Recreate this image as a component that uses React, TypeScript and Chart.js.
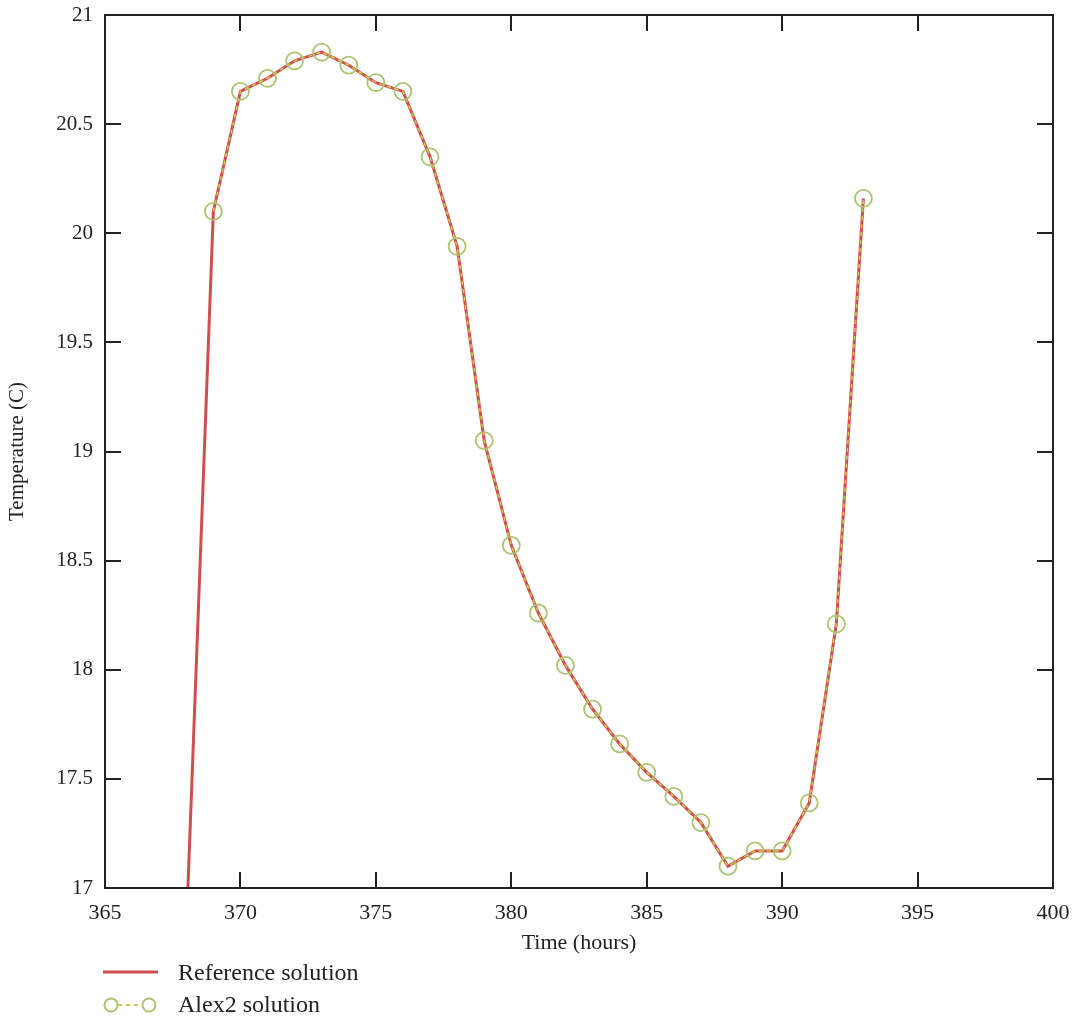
import React, { useEffect, useRef } from "react";
import { Chart, registerables } from "chart.js";

Chart.register(...registerables);

const refHours = [368, 369, 370, 371, 372, 373, 374, 375, 376, 377, 378, 379, 380, 381, 382, 383, 384, 385, 386, 387, 388, 389, 390, 391, 392, 393];
const refTemp = [16.8, 20.1, 20.65, 20.71, 20.79, 20.83, 20.77, 20.69, 20.65, 20.35, 19.94, 19.05, 18.57, 18.26, 18.02, 17.82, 17.66, 17.53, 17.42, 17.3, 17.1, 17.17, 17.17, 17.39, 18.21, 20.16];

const alexHours = [369, 370, 371, 372, 373, 374, 375, 376, 377, 378, 379, 380, 381, 382, 383, 384, 385, 386, 387, 388, 389, 390, 391, 392, 393];
const alexTemp = [20.1, 20.65, 20.71, 20.79, 20.83, 20.77, 20.69, 20.65, 20.35, 19.94, 19.05, 18.57, 18.26, 18.02, 17.82, 17.66, 17.53, 17.42, 17.3, 17.1, 17.17, 17.17, 17.39, 18.21, 20.16];

const xTicks = [365, 370, 375, 380, 385, 390, 395, 400];
const yTicks = [17, 17.5, 18, 18.5, 19, 19.5, 20, 20.5, 21];

const seriesNames = ["Reference solution", "Alex2 solution"];

const RED = "rgb(208,78,78)";
const GREEN = "rgb(172,196,112)";
const DASH = "rgb(200,205,70)";
const INK = "#222";
const SERIF = "'Liberation Serif', 'Times New Roman', serif";

const framePlugin = {
  id: "frameTicks",
  afterDatasetsDraw(chart: any) {
    const { ctx, chartArea: a, scales } = chart;
    ctx.save();
    ctx.strokeStyle = INK;
    ctx.lineWidth = 2;
    ctx.strokeRect(a.left, a.top, a.right - a.left, a.bottom - a.top);
    const L = 16;
    ctx.beginPath();
    xTicks.slice(1, -1).forEach((v) => {
      const px = Math.round(scales.x.getPixelForValue(v));
      ctx.moveTo(px, a.bottom);
      ctx.lineTo(px, a.bottom - L);
      ctx.moveTo(px, a.top);
      ctx.lineTo(px, a.top + L);
    });
    yTicks.slice(1, -1).forEach((v) => {
      const py = Math.round(scales.y.getPixelForValue(v));
      ctx.moveTo(a.left, py);
      ctx.lineTo(a.left + L, py);
      ctx.moveTo(a.right, py);
      ctx.lineTo(a.right - L, py);
    });
    ctx.stroke();

    // legend
    ctx.font = `24px ${SERIF}`;
    ctx.fillStyle = INK;
    ctx.textBaseline = "middle";
    ctx.textAlign = "left";
    ctx.strokeStyle = RED;
    ctx.lineWidth = 3;
    ctx.beginPath();
    ctx.moveTo(103, 972);
    ctx.lineTo(158, 972);
    ctx.stroke();
    ctx.fillText(seriesNames[0], 178, 974);

    ctx.strokeStyle = GREEN;
    ctx.lineWidth = 2;
    [111, 149].forEach((cx) => {
      ctx.beginPath();
      ctx.arc(cx, 1005, 6.5, 0, Math.PI * 2);
      ctx.stroke();
    });
    ctx.strokeStyle = DASH;
    ctx.setLineDash([4, 4]);
    ctx.beginPath();
    ctx.moveTo(118, 1005);
    ctx.lineTo(142, 1005);
    ctx.stroke();
    ctx.setLineDash([]);
    ctx.fillStyle = INK;
    ctx.fillText(seriesNames[1], 178, 1006);
    ctx.restore();
  },
};

export default function App() {
  const ref = useRef<HTMLCanvasElement>(null);
  useEffect(() => {
    const canvas = ref.current!;
    const chart = new Chart(canvas, {
      type: "line",
      data: {
        datasets: [
          {
            label: seriesNames[0],
            data: refHours.map((h, i) => ({ x: h, y: refTemp[i] })),
            borderColor: RED,
            borderWidth: 3,
            pointRadius: 0,
            fill: false,
            tension: 0,
            order: 1,
            clip: 0 as any,
          },
          {
            label: seriesNames[1],
            data: alexHours.map((h, i) => ({ x: h, y: alexTemp[i] })),
            borderColor: DASH,
            borderWidth: 1.5,
            borderDash: [4, 4],
            pointRadius: 8.5,
            pointBorderColor: GREEN,
            pointBorderWidth: 1.8,
            pointBackgroundColor: "rgba(0,0,0,0)",
            fill: false,
            tension: 0,
            order: 0,
            clip: 0 as any,
          },
        ],
      },
      options: {
        animation: false,
        responsive: false,
        maintainAspectRatio: false,
        layout: { padding: { left: 0, top: 15, right: 27, bottom: 64 } },
        plugins: { legend: { display: false }, tooltip: { enabled: false } },
        scales: {
          x: {
            type: "linear",
            min: 365,
            max: 400,
            afterBuildTicks: (s: any) => {
              s.ticks = xTicks.map((v) => ({ value: v }));
            },
            afterFit: (s: any) => {
              s.height = 68;
              s.paddingLeft = 0;
              s.paddingRight = 0;
            },
            grid: { display: false, drawTicks: false },
            border: { display: false },
            ticks: {
              padding: 12,
              color: INK,
              font: { family: SERIF, size: 22 },
              maxRotation: 0,
              callback: (v: any) => String(v),
            },
            title: {
              display: true,
              text: "Time (hours)",
              color: INK,
              font: { family: SERIF, size: 22 },
              padding: { top: 0, bottom: 0 },
            },
          },
          y: {
            type: "linear",
            min: 17,
            max: 21,
            afterBuildTicks: (s: any) => {
              s.ticks = yTicks.map((v) => ({ value: v }));
            },
            afterFit: (s: any) => {
              s.width = 105;
              s.paddingTop = 0;
              s.paddingBottom = 0;
            },
            grid: { display: false, drawTicks: false },
            border: { display: false },
            ticks: {
              padding: 12,
              color: INK,
              font: { family: SERIF, size: 21 },
              callback: (v: any) => String(v),
            },
            title: {
              display: true,
              text: "Temperature (C)",
              color: INK,
              font: { family: SERIF, size: 21 },
              padding: { top: 5, bottom: 0 },
            },
          },
        },
      },
      plugins: [framePlugin],
    });
    return () => chart.destroy();
  }, []);
  return (
    <div style={{ position: "absolute", left: 0, top: 0, width: 1080, height: 1020, background: "#fff" }}>
      <canvas ref={ref} width={1080} height={1020} style={{ width: 1080, height: 1020, display: "block" }} />
    </div>
  );
}
